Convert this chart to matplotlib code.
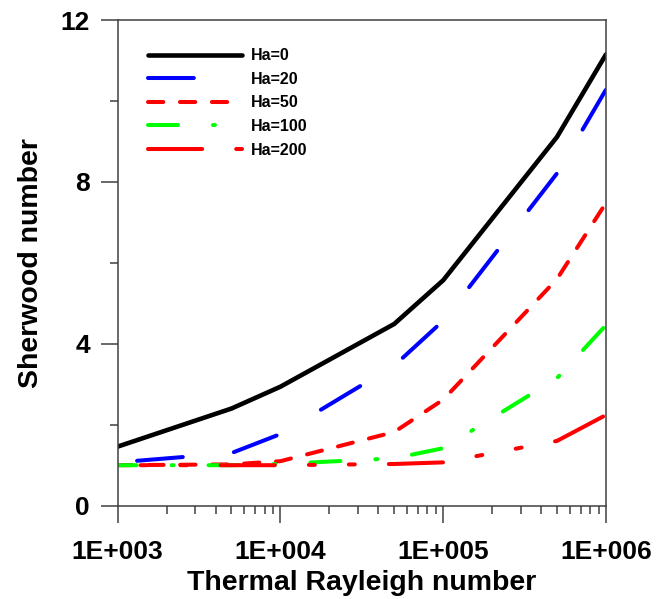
import matplotlib
matplotlib.use("Agg")
import matplotlib.pyplot as plt
import numpy as np
from matplotlib.lines import Line2D
from matplotlib.ticker import LogLocator, NullFormatter, MultipleLocator

# data
rayleigh = [1e3, 5e3, 1e4, 5e4, 1e5, 5e5, 1e6]
sh_ha0 = [1.46, 2.40, 2.94, 4.49, 5.57, 9.11, 11.15]
sh_ha20 = [1.07, 1.30, 1.77, 3.46, 4.57, 8.21, 10.28]
sh_ha50 = [1.00, 1.02, 1.10, 1.82, 2.62, 5.60, 7.48]
sh_ha100 = [1.00, 1.00, 1.03, 1.17, 1.42, 3.15, 4.46]
sh_ha200 = [1.00, 1.00, 1.00, 1.03, 1.07, 1.60, 2.24]

labels = ["Ha=0", "Ha=20", "Ha=50", "Ha=100", "Ha=200"]
xtick_vals = [1e3, 1e4, 1e5, 1e6]
xtick_labels = ["1E+003", "1E+004", "1E+005", "1E+006"]
ytick_vals = [0, 4, 8, 12]

plt.rcParams['font.family'] = ['Liberation Sans', 'DejaVu Sans']
plt.rcParams['font.weight'] = 'bold'
plt.rcParams['lines.scale_dashes'] = False

fig = plt.figure(figsize=(6.67, 5.99), dpi=100)
ax = fig.add_axes([0.1765, 0.1558, 0.732, 0.8108])

# colour, dash pattern (pt), dash offset (pt), width
styles = [
    ("black", None, 0, 3.3),
    ("#0000ff", (33, 37), 56, 2.9),
    ("#ff0000", (11, 12), 1, 2.9),
    ("#00ff00", (21.6, 25.2, 1.4, 25.2), 8, 2.9),
    ("#ff0000", (39, 24.5, 4.3, 24.5, 4.3, 24.5), 47, 2.9),
]
series = [sh_ha0, sh_ha20, sh_ha50, sh_ha100, sh_ha200]

handles = []
for (color, dash, off, lw), ys, lab in zip(styles, series, labels):
    line, = ax.plot(rayleigh, ys, color=color, lw=lw,
                    solid_capstyle='round', dash_capstyle='round')
    if dash is not None:
        line.set_linestyle((off, dash))
    h = Line2D([], [], color=color, lw=lw,
               solid_capstyle='round', dash_capstyle='round')
    if dash is not None:
        h.set_linestyle((0, dash))
    handles.append(h)

ax.set_xscale('log')
ax.set_xlim(1e3, 1e6)
ax.set_ylim(0, 12)
ax.set_xticks(xtick_vals)
ax.set_xticklabels(xtick_labels)
ax.xaxis.set_minor_locator(LogLocator(base=10, subs=np.arange(2, 10)))
ax.xaxis.set_minor_formatter(NullFormatter())
ax.set_yticks(ytick_vals)
ax.yaxis.set_minor_locator(MultipleLocator(2))

spine_col = '#404040'
for s in ax.spines.values():
    s.set_color(spine_col)
    s.set_linewidth(1.1)

ax.tick_params(axis='both', which='major', direction='out', length=12,
               width=1.1, color=spine_col, labelsize=19)
ax.tick_params(axis='both', which='minor', direction='out', length=6,
               width=1.1, color=spine_col)
ax.tick_params(axis='x', which='major', pad=13)
ax.tick_params(axis='y', which='major', pad=8)

ax.set_xlabel("Thermal Rayleigh number", fontsize=20.5, fontweight='bold',
              labelpad=4)
ax.set_ylabel("Sherwood number", fontsize=20.5, fontweight='bold',
              labelpad=12)

leg = ax.legend(handles, labels, loc='upper left',
                bbox_to_anchor=(0.062, 0.942), frameon=False,
                borderpad=0, borderaxespad=0, handlelength=5.9,
                handletextpad=0.55, labelspacing=0.54,
                prop={'size': 11.5, 'weight': 'bold'})

fig.savefig("out.png", dpi=100)
